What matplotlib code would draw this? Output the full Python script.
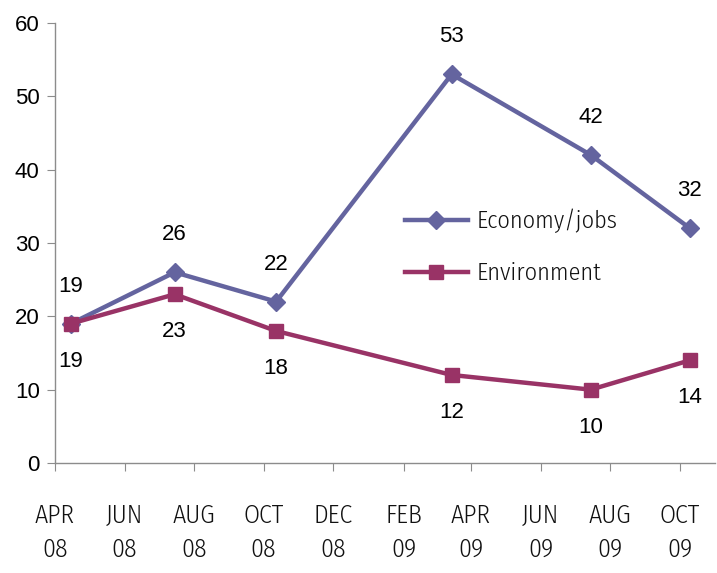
import matplotlib.pyplot as plt
import numpy as np
from datetime import date

# survey dates and percentages
survey_dates = [date(2008, 4, 15), date(2008, 7, 15), date(2008, 10, 12),
                date(2009, 3, 15), date(2009, 7, 15), date(2009, 10, 10)]
economy = [19, 26, 22, 53, 42, 32]
environment = [19, 23, 18, 12, 10, 14]

tick_dates = [date(2008, 4, 1), date(2008, 6, 1), date(2008, 8, 1), date(2008, 10, 1),
              date(2008, 12, 1), date(2009, 2, 1), date(2009, 4, 1), date(2009, 6, 1),
              date(2009, 8, 1), date(2009, 10, 1)]
tick_labels = ['APR\n08', 'JUN\n08', 'AUG\n08', 'OCT\n08', 'DEC\n08',
               'FEB\n09', 'APR\n09', 'JUN\n09', 'AUG\n09', 'OCT\n09']

ECON_COL = '#64649f'
ENV_COL = '#993366'
num_font = ['Liberation Sans', 'DejaVu Sans']
narrow_font = ['Fira Sans Condensed', 'IBM Plex Sans Condensed', 'DejaVu Sans']

fig = plt.figure(figsize=(7.17, 5.73), dpi=100)
ax = fig.add_axes([0.0767, 0.192, 0.9205, 0.768])

ax.plot(survey_dates, economy, color=ECON_COL, lw=3.2, marker='D', ms=9.5,
        label='Economy/jobs')
ax.plot(survey_dates, environment, color=ENV_COL, lw=3.2, marker='s', ms=10.5,
        label='Environment')

# value labels: economy above, environment below
for d, v in zip(survey_dates, economy):
    ax.annotate(str(v), (d, v), xytext=(0, 27), textcoords='offset points',
                ha='center', va='center', fontsize=16, family=num_font)
for d, v in zip(survey_dates, environment):
    ax.annotate(str(v), (d, v), xytext=(0, -27), textcoords='offset points',
                ha='center', va='center', fontsize=16, family=num_font)

ax.set_ylim(0, 60)
ax.set_yticks(np.arange(0, 61, 10))
ax.set_xlim(date(2008, 4, 1), date(2009, 11, 1))
ax.set_xticks(tick_dates)
ax.set_xticklabels(tick_labels, family=narrow_font, fontsize=18.5, linespacing=1.45,
                   fontweight=350, color='#111111')
for lab in ax.get_yticklabels():
    lab.set_family(num_font)
    lab.set_fontsize(16)

for side in ('top', 'right'):
    ax.spines[side].set_visible(False)
for side in ('left', 'bottom'):
    ax.spines[side].set_color('#8c8c8c')
    ax.spines[side].set_linewidth(1.0)
ax.tick_params(axis='y', direction='out', length=6, color='#8c8c8c', pad=5)
ax.tick_params(axis='x', direction='out', length=6, color='#8c8c8c', pad=23)

leg = ax.legend(loc='upper left', frameon=False,
                prop={'family': narrow_font, 'size': 17.5, 'weight': 350},
                handlelength=2.6, handletextpad=0.35, labelspacing=1.2)
for t in leg.get_texts():
    t.set_color('#111111')
leg.set_bbox_to_anchor((0.497, 0.628), transform=ax.transAxes)

fig.savefig('out.png', dpi=100)
